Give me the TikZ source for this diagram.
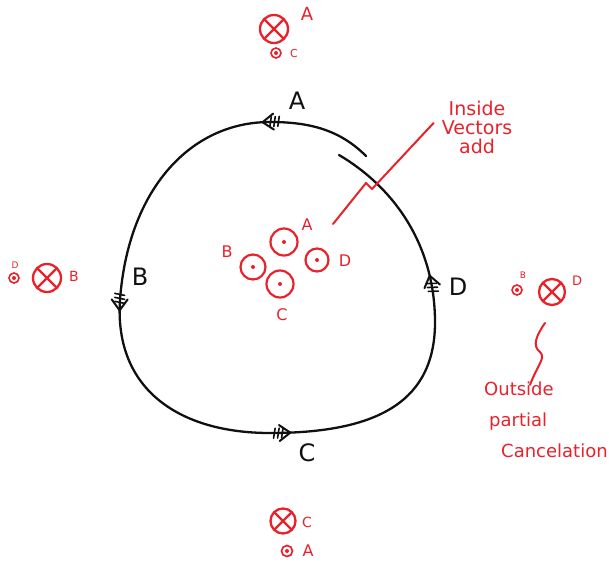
\documentclass[tikz,border=0pt]{standalone}
\usepackage{fontspec}
\setmainfont{DejaVu Sans}
\usepackage{tikz}
\usetikzlibrary{decorations.markings}
\definecolor{inkred}{HTML}{E8212B}
\definecolor{inkblack}{HTML}{101010}
\tikzset{
  wire/.style={draw=inkblack,line width=2.3pt,line cap=round},
  into/.style={circle,draw=inkred,line width=2.3pt,minimum size=#1,inner sep=0pt,
    path picture={\draw[inkred,line width=2.2pt]
      (path picture bounding box.north west)--(path picture bounding box.south east)
      (path picture bounding box.north east)--(path picture bounding box.south west);}},
  outof/.style={circle,draw=inkred,line width=2.2pt,minimum size=#1,inner sep=0pt,
    path picture={\fill[inkred] (path picture bounding box.center) circle (2pt);}},
  lbl/.style={text=inkred,inner sep=0pt,font=\fontsize{#1}{#1}\selectfont},
  wirelbl/.style={text=inkblack,inner sep=0pt,font=\fontsize{24}{24}\selectfont},
  note/.style={text=inkred,inner sep=0pt,font=\fontsize{19}{19}\selectfont},
  pointer/.style={draw=inkred,line width=2pt,line cap=round,line join=round},
  /pgf/decoration/current at/.style={mark=at position #1 with {
    \draw[inkblack,line width=1.6pt] (-17pt,-5pt)--(-15pt,5pt) (-13pt,-5pt)--(-11pt,5pt) (-9pt,-5pt)--(-7pt,5pt);
    \draw[inkblack,line width=2pt,line cap=round,line join=round] (-11pt,-8pt) -- (0pt,0pt) -- (-11pt,8pt);}}
}

\begin{document}
\begin{tikzpicture}[x=1pt,y=-1pt]
  \useasboundingbox (0,0) rectangle (609,565);
  % Loop of wire
  \draw[wire,postaction={decorate},
    decoration={markings,current at=0.11,current at=0.365,current at=0.60,current at=0.848}]
    (366,156) .. controls (340,130) and (310,122) .. (270,122)
    .. controls (190,122) and (128,190) .. (120,300)
    .. controls (114,390) and (180,433) .. (270,433)
    .. controls (380,433) and (436,400) .. (435,320)
    .. controls (434,240) and (390,185) .. (339,155);
  \foreach \n/\x/\y/\t in {labA/297/101/A, labB/140/277/B, labC/307/453/C, labD/458/287/D}
    \node[wirelbl] (\n) at (\x,\y) {\t};
  % Inside: field of each side
  \foreach \n/\x/\y/\d in {inA/284/242/27, inB/253/267/25, inC/280/284/27, inD/317/260/23}
    \node[outof=\d pt] (\n) at (\x,\y) {};
  \foreach \n/\x/\y/\t in {inlA/307/225/A, inlB/227/252/B, inlC/282/315/C, inlD/345/261/D}
    \node[lbl=16] (\n) at (\x,\y) {\t};
  % Outside: top
  \node[into=28pt] (topX) at (274,29) {};
  \node[lbl=18] (topXl) at (307,14) {A};
  \node[outof=10pt,line width=1.6pt] (topO) at (276,53) {};
  \node[lbl=11] (topOl) at (294,53) {C};
  % Outside: left
  \node[into=28pt] (leftX) at (47,278) {};
  \node[lbl=14] (leftXl) at (74,276) {B};
  \node[outof=10pt,line width=1.6pt] (leftO) at (14,278) {};
  \node[lbl=9] (leftOl) at (15,265) {D};
  % Outside: right
  \node[into=26pt] (rightX) at (552,292) {};
  \node[lbl=13] (rightXl) at (577,281) {D};
  \node[outof=10pt,line width=1.6pt] (rightO) at (517,290) {};
  \node[lbl=9] (rightOl) at (523,275) {B};
  % Outside: bottom
  \node[into=25pt] (botX) at (283,521) {};
  \node[lbl=14] (botXl) at (307,522) {C};
  \node[outof=11pt,line width=1.7pt] (botO) at (287,551) {};
  \node[lbl=16] (botOl) at (308,551) {A};
  % Notes
  \node[note,align=center] (insnote) at (477,127) {Inside\\Vectors\\add};
  \node[note,align=left,anchor=west,font=\fontsize{18}{31}\selectfont] (outnote) at (484,420)
    {Outside\\\hspace{5pt}partial\\\hspace{17pt}Cancelation};
  \coordinate (ptr) at (333,224);
  \draw[pointer] (ptr) -- (366,183) -- (372,189) -- ([xshift=-8pt,yshift=4pt]insnote.west);
  \coordinate (sq) at (545,323);
  \draw[pointer] (sq) .. controls (536,336) and (532,346) .. (540,352)
    .. controls (546,358) and (538,364) .. ([xshift=46pt,yshift=-3pt]outnote.north west);
\end{tikzpicture}
\end{document}
